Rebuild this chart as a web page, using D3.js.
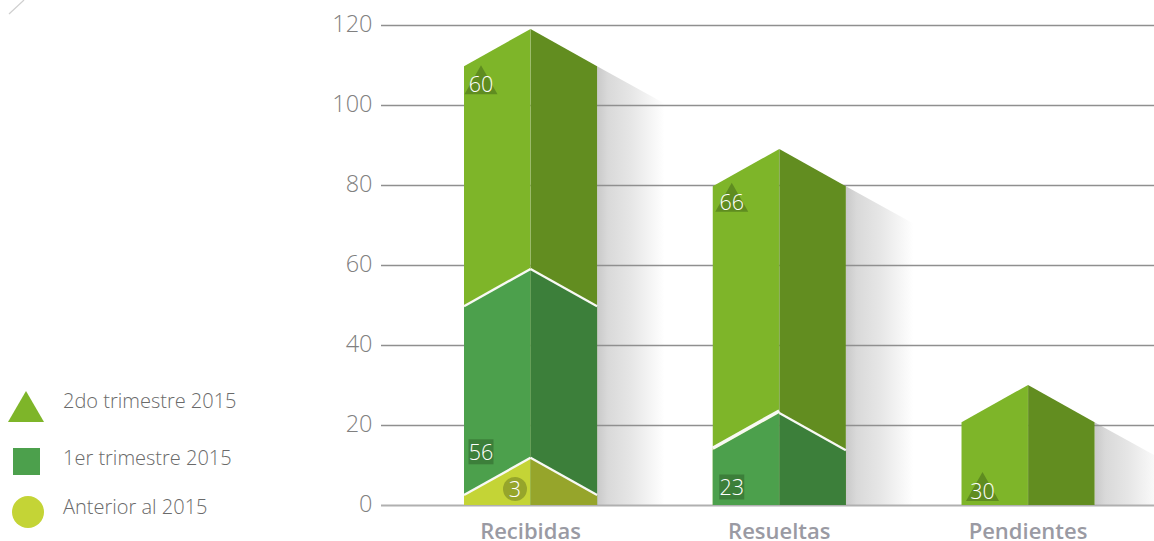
<!DOCTYPE html>
<html><head><meta charset="utf-8">
<script src="https://cdn.jsdelivr.net/npm/d3@7/dist/d3.min.js"></script>
<style>html,body{margin:0;padding:0;background:#fff;overflow:hidden}svg{display:block}text{font-family:"Open Sans",sans-serif}</style>
</head><body><svg id="c" width="1154" height="541"></svg>
<script>
const categories = ["Recibidas", "Resueltas", "Pendientes"];
const seriesNames = ["Anterior al 2015", "1er trimestre 2015", "2do trimestre 2015"];
const anterior = [3, 0, 0];
const primerTrimestre = [56, 23, 0];
const segundoTrimestre = [60, 66, 30];
const yTicks = [0, 20, 40, 60, 80, 100, 120];
const legendOrder = [2, 1, 0];

const ROOF = 9.3;
const faceLight = ["#c4d436", "#4ca04c", "#7eb529"];
const faceDark = ["#96a52b", "#3c7f3a", "#628d20"];
const markColor = ["#96a52b", "#3c7f3a", "#5f8c20"];
const series = [anterior, primerTrimestre, segundoTrimestre];

const svg = d3.select("#c");
const x = d3.scaleBand().domain(categories).range([464, 1094.6]).paddingInner(0.465).paddingOuter(0);
const y = d3.scaleLinear().domain([0, 120]).range([505, 25]);
const bw = x.bandwidth();
const dx = bw / 2;

const defs = svg.append("defs");
const g = defs.append("linearGradient").attr("id", "shade");
[[0, "#c9c9c9"], [0.16, "#d9d9d9"], [0.5, "#e6e6e6"], [1, "#ffffff"]].forEach(([o, c]) =>
  g.append("stop").attr("offset", o).attr("stop-color", c));

const stacked = categories.map((c, i) => {
  let sum = 0;
  return series.map((s, k) => {
    if (!s[i]) return null;
    sum += s[i];
    const front = sum < ROOF ? sum - 0.5 : sum - ROOF;
    return { k, cat: c, v: s[i], sum, front, peak: front + ROOF };
  }).filter(Boolean);
});

// shadows
categories.forEach((c, i) => {
  const top = stacked[i][stacked[i].length - 1];
  const xr = x(c) + bw;
  svg.append("path").attr("fill", "url(#shade)")
    .attr("d", d3.line()([[xr, y(top.front)], [xr + bw / 2 + 1, y(top.front - ROOF)], [xr + bw / 2 + 1, y(0)], [xr, y(0)]]));
});

// axis and grid
const axis = svg.append("g").attr("transform", "translate(381,0)")
  .call(d3.axisLeft(y).tickValues(yTicks).tickSize(-773).tickPadding(8.5));
axis.select(".domain").remove();
axis.selectAll("line").attr("stroke", "#8f8f8f").attr("stroke-width", 1.4);
axis.selectAll("text").attr("fill", "#808080").attr("font-size", 23.5).attr("font-weight", 300).attr("dy", "0.28em");
axis.selectAll(".tick").filter(d => d === 0).select("line").attr("stroke", "#b0b0b0").attr("stroke-width", 2);

// bars: tallest layer first, lower layers paint over
categories.forEach((c, i) => {
  const xl = x(c), layers = stacked[i].slice().reverse();
  layers.forEach((l, n) => {
    const base = y(0);
    svg.append("path").attr("fill", faceLight[l.k])
      .attr("d", d3.line()([[xl, base], [xl, y(l.front)], [xl + dx, y(l.peak)], [xl + dx, base]]));
    svg.append("path").attr("fill", faceDark[l.k])
      .attr("d", d3.line()([[xl + dx, base], [xl + dx, y(l.peak)], [xl + bw, y(l.front)], [xl + bw, base]]));
    if (n > 0) {
      const wide = i === 1; // Resueltas has a wider gap on its left face
      const up = wide ? 2 : 0;
      svg.append("path").attr("fill", "none").attr("stroke", "#f8f9f4").attr("stroke-width", wide ? 3.6 : 2.4)
        .attr("d", d3.line()([[xl, y(l.front) - up], [xl + dx, y(l.peak) - up]]));
      svg.append("path").attr("fill", "none").attr("stroke", "#f8f9f4").attr("stroke-width", 2.2)
        .attr("d", d3.line()([[xl + dx, y(l.peak)], [xl + bw, y(l.front)]]));
    }
  });
  svg.append("line").attr("x1", xl + dx).attr("x2", xl + dx).attr("y1", y(layers[0].peak)).attr("y2", y(0))
    .attr("stroke", "#ffffff").attr("stroke-opacity", 0.1);
});

// value marks
const labelAt = {
  "2-0": [17, 105.2], "1-0": [17, 13.3], "0-0": [51, 4],
  "2-1": [19, 75.8], "1-1": [19, 4.5],
  "2-2": [21, 3.5]
};
function marker(k, cx, cy) {
  if (k === 2) {
    svg.append("path").attr("fill", markColor[k]).attr("transform", `translate(${cx},${cy - 4})`)
      .attr("d", d3.line()([[-16.5, 14], [0, -15], [16.5, 14]]) + "Z");
  } else if (k === 1) {
    svg.append("rect").attr("fill", markColor[k]).attr("x", cx - 12.5).attr("y", cy - 12.5).attr("width", 25).attr("height", 25);
  } else {
    svg.append("circle").attr("fill", markColor[k]).attr("cx", cx).attr("cy", cy).attr("r", 12);
  }
}
stacked.forEach((layers, i) => layers.forEach(l => {
  const [ox, val] = labelAt[l.k + "-" + i];
  const cx = x(l.cat) + ox, cy = y(val);
  marker(l.k, cx, cy);
  svg.append("text").attr("x", cx).attr("y", cy).attr("dy", "0.36em").attr("text-anchor", "middle")
    .attr("fill", "#fff").attr("font-size", 21.5).attr("font-weight", 300).text(l.v);
}));

// category labels
svg.selectAll(".cat").data(categories).join("text").attr("class", "cat")
  .attr("x", d => x(d) + dx).attr("y", 539).attr("text-anchor", "middle")
  .attr("fill", "#9a9aa3").attr("font-size", 22).attr("font-weight", 600).text(d => d);

// legend
const legTextY = { 2: 401, 1: 458, 0: 507 };
legendOrder.forEach(k => {
  if (k === 2) {
    svg.append("path").attr("fill", faceLight[k]).attr("d", d3.line()([[8, 422], [26, 391], [44, 422]]) + "Z");
  } else if (k === 1) {
    svg.append("rect").attr("fill", faceLight[k]).attr("x", 13).attr("y", 448).attr("width", 27).attr("height", 27);
  } else {
    svg.append("circle").attr("fill", faceLight[k]).attr("cx", 28).attr("cy", 512).attr("r", 16);
  }
  svg.append("text").attr("x", 63).attr("y", legTextY[k]).attr("dy", "0.36em")
    .attr("fill", "#6a6a6a").attr("font-size", 20).attr("font-weight", 300).text(seriesNames[k]);
});

// corner stroke
svg.append("line").attr("x1", 9).attr("y1", 14).attr("x2", 24).attr("y2", 0).attr("stroke", "#cfcfcf").attr("stroke-width", 1.2);
</script></body></html>
